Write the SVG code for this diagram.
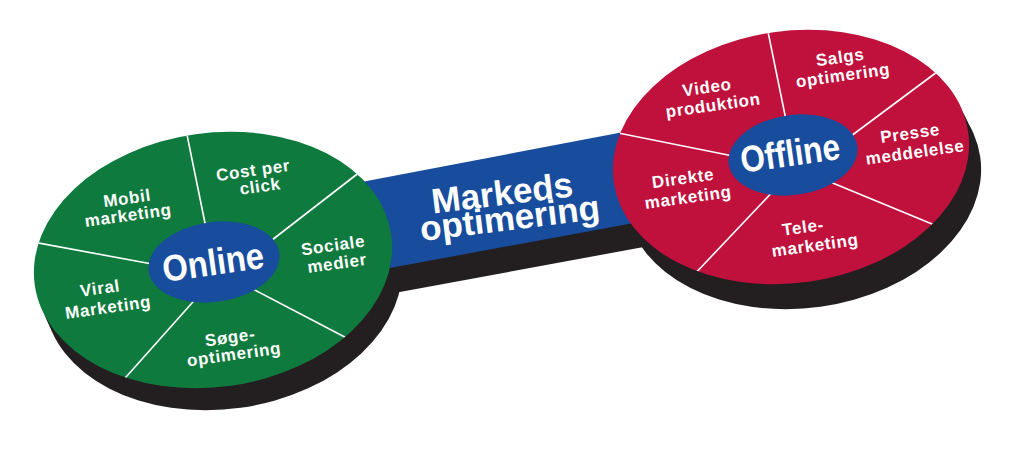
<svg xmlns="http://www.w3.org/2000/svg" width="1024" height="449" viewBox="0 0 1024 449">
<style>
.shadow{fill:#231f20}
.band{fill:#184c9c}
.hub{fill:#184c9c}
.green{fill:#0f7a3d}
.red{fill:#c0103c}
.div{stroke:#ffffff;stroke-width:1.6;fill:none}
.lbl{font-family:"Liberation Sans",Arial,sans-serif;font-weight:bold;font-size:17px;letter-spacing:0.7px;fill:#ffffff;text-anchor:middle}
.hubtxt{font-family:"Liberation Sans",Arial,sans-serif;font-weight:bold;font-size:37px;fill:#ffffff;text-anchor:middle}
.bandtxt{font-family:"Liberation Sans",Arial,sans-serif;font-weight:bold;font-size:35px;fill:#ffffff;text-anchor:middle}
</style>
<defs>
<clipPath id="clipGreen"><ellipse cx="213" cy="260" rx="180" ry="127" transform="rotate(-8 213 260)"/></clipPath>
<clipPath id="clipRed"><ellipse cx="791" cy="157" rx="179" ry="126" transform="rotate(-8 791 157)"/></clipPath>
</defs>
<rect width="1024" height="449" fill="#ffffff"/>
<g id="connectors">
<polygon class="shadow" points="340,212 660,151 660,244 340,303"/>
<g id="greenShadow" class="shadow">
<ellipse cx="218" cy="271" rx="180" ry="127" transform="rotate(-8 218 271)"/>
<ellipse cx="223" cy="282" rx="180" ry="127" transform="rotate(-8 223 282)"/>
</g>
<g id="redShadow" class="shadow">
<ellipse cx="797" cy="170" rx="179" ry="126" transform="rotate(-8 797 170)"/>
<ellipse cx="803" cy="182" rx="179" ry="126" transform="rotate(-8 803 182)"/>
</g>
<g id="band">
<polygon class="band" points="330,188 650,127 650,220 330,279"/>
<text class="bandtxt" transform="translate(502 192) rotate(-7)" y="13">Markeds</text>
<text class="bandtxt" transform="translate(510 220) rotate(-7)" y="10">optimering</text>
</g>
</g>
<g id="online">
<ellipse class="green" cx="213" cy="260" rx="180" ry="127" transform="rotate(-8 213 260)"/>
<g clip-path="url(#clipGreen)">
<line class="div" x1="206" y1="228" x2="184" y2="120"/>
<line class="div" x1="263" y1="247" x2="365" y2="168"/>
<line class="div" x1="247" y1="286" x2="360" y2="345"/>
<line class="div" x1="200" y1="294" x2="118" y2="386"/>
<line class="div" x1="163" y1="266" x2="22" y2="240"/>
</g>
<ellipse class="hub" cx="214" cy="262" rx="66" ry="40" transform="rotate(-8 214 262)"/>
<text class="hubtxt" transform="translate(213 262) rotate(-8)" y="13" textLength="102" lengthAdjust="spacingAndGlyphs">Online</text>
<text class="lbl" transform="translate(127 198) rotate(-8)" y="6">Mobil</text>
<text class="lbl" transform="translate(128 215) rotate(-8)" y="6">marketing</text>
<text class="lbl" transform="translate(253 170) rotate(-8)" y="6">Cost per</text>
<text class="lbl" transform="translate(260 186) rotate(-8)" y="6">click</text>
<text class="lbl" transform="translate(333 245) rotate(-8)" y="6">Sociale</text>
<text class="lbl" transform="translate(337 263) rotate(-8)" y="6">medier</text>
<text class="lbl" transform="translate(100 288) rotate(-8)" y="6">Viral</text>
<text class="lbl" transform="translate(108 307) rotate(-8)" y="6">Marketing</text>
<text class="lbl" transform="translate(230 337) rotate(-8)" y="6">Søge-</text>
<text class="lbl" transform="translate(234 354) rotate(-8)" y="6">optimering</text>
</g>
<g id="offline">
<ellipse class="red" cx="791" cy="157" rx="179" ry="126" transform="rotate(-8 791 157)"/>
<g clip-path="url(#clipRed)">
<line class="div" x1="786" y1="120" x2="765" y2="17"/>
<line class="div" x1="843" y1="142" x2="945" y2="66"/>
<line class="div" x1="823" y1="179" x2="949" y2="231"/>
<line class="div" x1="780" y1="184" x2="690" y2="279"/>
<line class="div" x1="743" y1="158" x2="603" y2="130"/>
</g>
<ellipse class="hub" cx="793" cy="155" rx="65" ry="40" transform="rotate(-8 793 155)"/>
<text class="hubtxt" transform="translate(790 153) rotate(-8)" y="13" textLength="100" lengthAdjust="spacingAndGlyphs">Offline</text>
<text class="lbl" transform="translate(707 87) rotate(-8)" y="6">Video</text>
<text class="lbl" transform="translate(713 105) rotate(-8)" y="6">produktion</text>
<text class="lbl" transform="translate(840 57) rotate(-8)" y="6">Salgs</text>
<text class="lbl" transform="translate(843 75) rotate(-8)" y="6">optimering</text>
<text class="lbl" transform="translate(910 133) rotate(-8)" y="6">Presse</text>
<text class="lbl" transform="translate(915 152) rotate(-8)" y="6">meddelelse</text>
<text class="lbl" transform="translate(683 178) rotate(-8)" y="6">Direkte</text>
<text class="lbl" transform="translate(688 197) rotate(-8)" y="6">marketing</text>
<text class="lbl" transform="translate(803 227) rotate(-8)" y="6">Tele-</text>
<text class="lbl" transform="translate(815 245) rotate(-8)" y="6">marketing</text>
</g>
</svg>
